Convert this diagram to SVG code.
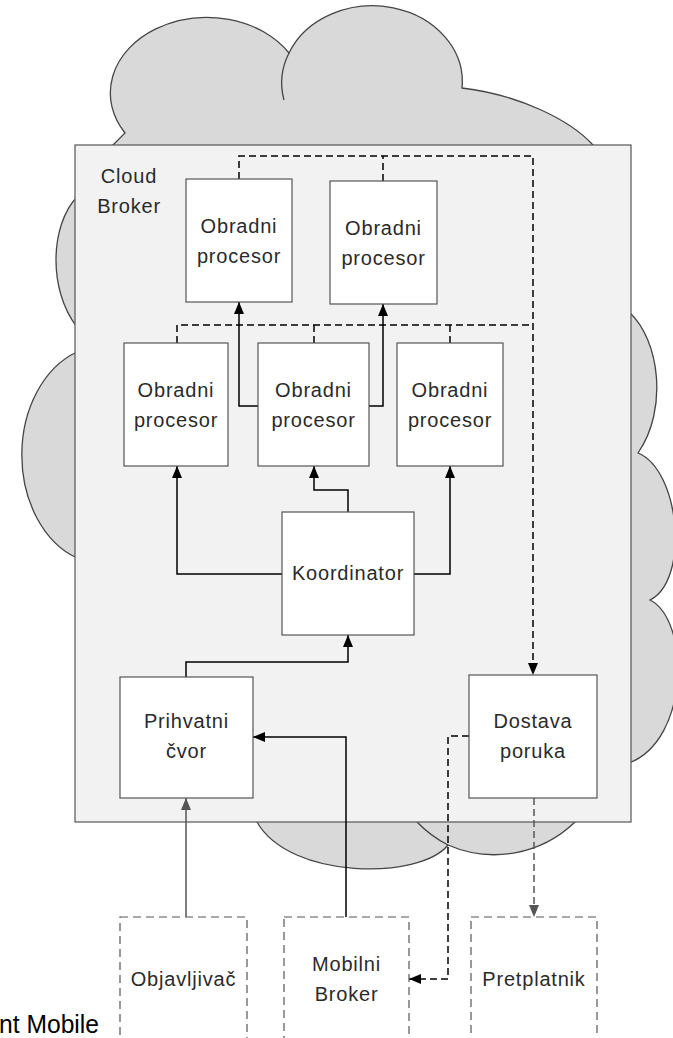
<svg xmlns="http://www.w3.org/2000/svg" width="673" height="1038" viewBox="0 0 673 1038">
<style>
.lbl{font-family:"Liberation Sans",Arial,sans-serif;font-size:20px;letter-spacing:0.8px;fill:#2a2a2a;text-anchor:middle}
.box{fill:#fff;stroke:#555;stroke-width:1.2}
.dbox{fill:#fff;stroke:#555;stroke-width:1.2;stroke-dasharray:8 5}
.c{fill:none;stroke:#000;stroke-width:1.5}
.cg{fill:none;stroke:#555;stroke-width:1.5}
.d{stroke-dasharray:7 4}
.cloud{fill:#d9d9d9;stroke:#444;stroke-width:1.3}
</style>
<defs>
<marker id="ah" markerUnits="userSpaceOnUse" markerWidth="12" markerHeight="12" viewBox="0 0 12 10" refX="12" refY="5" orient="auto"><path d="M0,0 L12,5 L0,10 Z" fill="#000"/></marker>
<marker id="ahg" markerUnits="userSpaceOnUse" markerWidth="12" markerHeight="12" viewBox="0 0 12 10" refX="12" refY="5" orient="auto"><path d="M0,0 L12,5 L0,10 Z" fill="#555"/></marker>
</defs>
<rect width="673" height="1038" fill="#fff"/>
<g id="cloud">
<path class="cloud" d="M113,145 L125,133 A96 75 0 0 1 289,53 A90 76 0 0 1 462,88 C520,95 570,120 593,145 L629,312 C660,340 668,410 638,453 C680,470 690,580 650,600 C690,620 690,740 629,763 L575,822 A116 116 0 0 1 448,845 C420,880 290,880 257,822 L77,558 A82 109 0 0 1 77,352 L77,327 C48,290 50,225 77,197 Z"/>
<path fill="none" stroke="#444" stroke-width="1.3" d="M284,100 A90 76 0 0 1 289,53"/>
<path fill="none" stroke="#444" stroke-width="1.3" d="M448,845 A116 116 0 0 1 417,822"/>
</g>
<g id="cloud-broker">
<rect x="75" y="145" width="556" height="677" fill="#f2f2f2" stroke="#555" stroke-width="1.2"/>
<text class="lbl" x="129" y="183">Cloud</text>
<text class="lbl" x="129" y="213">Broker</text>
</g>
<g id="connectors">
<path class="c d" d="M239,179 V156 H533 V675" marker-end="url(#ah)"/>
<path class="c d" d="M383,181 V156"/>
<path class="c d" d="M177,343 V325 H533"/>
<path class="c d" d="M314,343 V325"/>
<path class="c d" d="M450,343 V325"/>
<path class="c" d="M258,406 H239 V302" marker-end="url(#ah)"/>
<path class="c" d="M369,406 H383 V304" marker-end="url(#ah)"/>
<path class="c" d="M282,574 H177 V466" marker-end="url(#ah)"/>
<path class="c" d="M414,574 H450 V466" marker-end="url(#ah)"/>
<path class="c" d="M348,512 V490 H314 V466" marker-end="url(#ah)"/>
<path class="c" d="M186,677 V662 H348 V635" marker-end="url(#ah)"/>
<path class="c" d="M346,917 V737 H253" marker-end="url(#ah)"/>
<path class="cg" d="M186,917 V798" marker-end="url(#ahg)"/>
<path class="c d" d="M469,736 H448 V979 H409" marker-end="url(#ah)"/>
<path class="cg d" d="M534,798 V917" marker-end="url(#ahg)"/>
</g>
<g id="op-top-1"><rect class="box" x="186" y="179" width="106" height="123"/><text class="lbl" x="239" y="233">Obradni</text><text class="lbl" x="239" y="263">procesor</text></g>
<g id="op-top-2"><rect class="box" x="330" y="181" width="107" height="123"/><text class="lbl" x="383.5" y="235">Obradni</text><text class="lbl" x="383.5" y="265">procesor</text></g>
<g id="op-mid-1"><rect class="box" x="124" y="343" width="104" height="123"/><text class="lbl" x="176" y="397">Obradni</text><text class="lbl" x="176" y="427">procesor</text></g>
<g id="op-mid-2"><rect class="box" x="258" y="343" width="111" height="123"/><text class="lbl" x="313.5" y="397">Obradni</text><text class="lbl" x="313.5" y="427">procesor</text></g>
<g id="op-mid-3"><rect class="box" x="397" y="343" width="106" height="123"/><text class="lbl" x="450" y="397">Obradni</text><text class="lbl" x="450" y="427">procesor</text></g>
<g id="koordinator"><rect class="box" x="282" y="512" width="132" height="123"/><text class="lbl" x="348" y="580">Koordinator</text></g>
<g id="prihvatni"><rect class="box" x="120" y="677" width="133" height="121"/><text class="lbl" x="186.5" y="728">Prihvatni</text><text class="lbl" x="186.5" y="758">čvor</text></g>
<g id="dostava"><rect class="box" x="469" y="675" width="128" height="123"/><text class="lbl" x="533" y="728">Dostava</text><text class="lbl" x="533" y="758">poruka</text></g>
<g id="objavljivac"><rect class="dbox" x="120" y="917" width="127" height="140"/><text class="lbl" x="183.5" y="986">Objavljivač</text></g>
<g id="mobilni-broker"><rect class="dbox" x="284" y="917" width="125" height="140"/><text class="lbl" x="346.5" y="971">Mobilni</text><text class="lbl" x="346.5" y="1001">Broker</text></g>
<g id="pretplatnik"><rect class="dbox" x="471" y="917" width="126" height="140"/><text class="lbl" x="534" y="986">Pretplatnik</text></g>
<text x="-1" y="1033" font-family="Liberation Sans, Arial, sans-serif" font-size="25" textLength="100" lengthAdjust="spacingAndGlyphs" fill="#000">nt Mobile</text>
</svg>
